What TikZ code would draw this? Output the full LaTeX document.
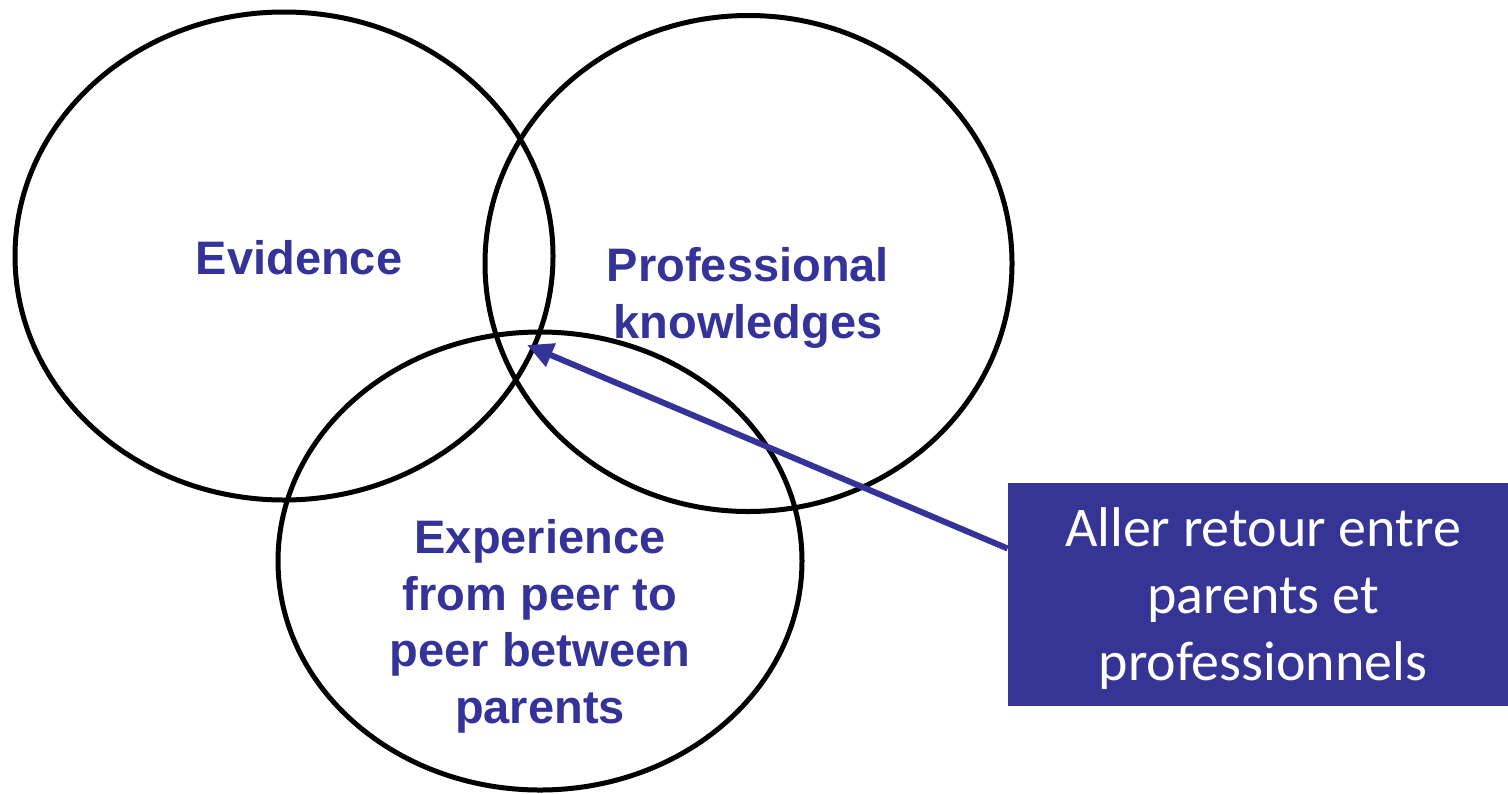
\documentclass[tikz,border=0pt]{standalone}
\usepackage{fontspec}
\setmainfont{Liberation Sans}
\newfontfamily\boxfont{Carlito}
\usetikzlibrary{shapes.geometric,arrows.meta}
\definecolor{navy}{HTML}{333399}
\definecolor{boxblue}{HTML}{363596}
\tikzset{
  venn/.style={ellipse, draw=black, line width=2.5pt, inner sep=0pt},
  lbl/.style={text=navy, font=\fontsize{23.5pt}{28.3pt}\selectfont\bfseries, align=center},
  notebox/.style={fill=boxblue, text=white, inner sep=0pt, minimum width=250pt, minimum height=111.5pt, align=center, font=\boxfont\fontsize{28pt}{33.5pt}\selectfont},
  pointer/.style={draw=navy, line width=3pt, -{Triangle[length=13pt,width=12pt]}}
}
\begin{document}
\begin{tikzpicture}[x=0.5pt,y=-0.5pt]
\useasboundingbox (0,0) rectangle (1508,793);
\node[venn, minimum width=269pt, minimum height=244pt] (ev) at (284,256) {};
\node[venn, minimum width=263.5pt, minimum height=248pt] (pk) at (748.5,263.5) {};
\node[venn, minimum width=262pt, minimum height=229pt] (ex) at (540,561) {};
\node[lbl] (tev) at (299,258) {Evidence};
\node[lbl] (tpk) at (748,298) {Professional\\knowledges};
\node[lbl] (tex) at (540,626.5) {Experience\\from peer to\\peer between\\parents};
\node[notebox] (box) at (1258,594.5) {};
\node[text=white, align=center, font=\boxfont\fontsize{28pt}{33.5pt}\selectfont] (boxtext) at (1263,599) {Aller retour entre\\parents et\\professionnels};
\coordinate (tip) at (527,345);
\draw[pointer] ([yshift=23pt]box.west) -- (tip);
\end{tikzpicture}
\end{document}
